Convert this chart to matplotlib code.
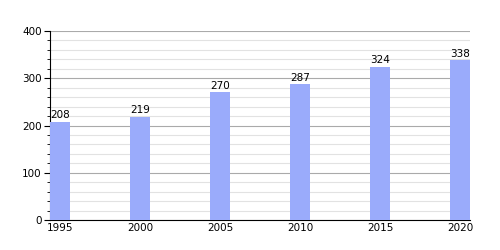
import matplotlib.pyplot as plt
import numpy as np
from matplotlib.ticker import MultipleLocator

years = ['1995', '2000', '2005', '2010', '2015', '2020']
values = [208, 219, 270, 287, 324, 338]

fig = plt.figure(figsize=(5, 2.5), dpi=100)
ax = fig.add_axes([0.1, 0.12, 0.84, 0.756])

x = np.arange(len(years))
ax.bar(x, values, width=0.25, color='#9aabfb', zorder=3)
for xi, v in zip(x, values):
    ax.text(xi, v + 3, str(v), ha='center', va='bottom', fontsize=7.5, zorder=4)

ax.set_xlim(-0.125, 5.125)
ax.set_ylim(0, 400)
ax.set_xticks(x)
ax.set_xticklabels(years, fontsize=7.5)
ax.tick_params(axis='x', length=0, pad=2)
ax.yaxis.set_major_locator(MultipleLocator(100))
ax.yaxis.set_minor_locator(MultipleLocator(20))
ax.tick_params(axis='y', which='major', length=4, labelsize=7.5, pad=2)
ax.tick_params(axis='y', which='minor', length=2)
ax.grid(axis='y', which='major', color='#aaaaaa', linewidth=0.8, zorder=0)
ax.grid(axis='y', which='minor', color='#e2e2e2', linewidth=0.8, zorder=0)
for s in ['top', 'right']:
    ax.spines[s].set_visible(False)
ax.spines['left'].set_linewidth(0.8)
ax.spines['bottom'].set_linewidth(0.8)

fig.savefig('out.png')
